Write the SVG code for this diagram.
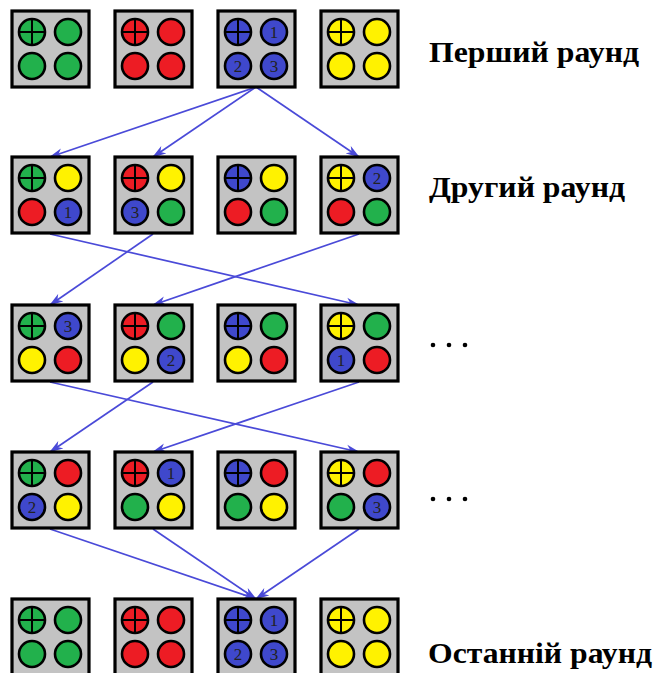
<svg xmlns="http://www.w3.org/2000/svg" xmlns:xlink="http://www.w3.org/1999/xlink" width="655" height="673" viewBox="0 0 655 673">
<style>
.box{fill:#c3c3c3;stroke:#000;stroke-width:3.2}
.c{stroke:#000;stroke-width:2.6}
.g{fill:#22b14c}.r{fill:#ed1c24}.b{fill:#3f48cc}.y{fill:#fff200}
.x{stroke:#000;stroke-width:2}
.n{font-family:"Liberation Serif",serif;font-size:17px;fill:#222;text-anchor:middle}
.lbl{font-family:"Liberation Serif",serif;font-weight:bold;font-size:29px;fill:#000}
.arr{stroke:#4a4ad8;stroke-width:1.7;fill:none;marker-end:url(#ah)}
</style>
<defs>
<marker id="ah" viewBox="0 0 14 10" refX="13" refY="5" markerWidth="14" markerHeight="10" markerUnits="userSpaceOnUse" orient="auto">
<path d="M0,0.5 L14,5 L0,9.5 L4,5 z" fill="#4a4ad8"/>
</marker>
<g id="cr"><line class="x" x1="-13" y1="0" x2="13" y2="0"/><line class="x" x1="0" y1="-13" x2="0" y2="13"/></g>
</defs>
<rect width="655" height="673" fill="#fff"/>

<g id="connectors">
<line class="arr" x1="256" y1="87" x2="50" y2="157"/>
<line class="arr" x1="256" y1="87" x2="153" y2="157"/>
<line class="arr" x1="256" y1="87" x2="359" y2="157"/>
<line class="arr" x1="50" y1="234" x2="359" y2="305"/>
<line class="arr" x1="153" y1="234" x2="50" y2="305"/>
<line class="arr" x1="359" y1="234" x2="153" y2="305"/>
<line class="arr" x1="50" y1="382" x2="359" y2="452"/>
<line class="arr" x1="153" y1="382" x2="50" y2="452"/>
<line class="arr" x1="359" y1="382" x2="153" y2="452"/>
<line class="arr" x1="50" y1="529" x2="256" y2="599"/>
<line class="arr" x1="153" y1="529" x2="256" y2="599"/>
<line class="arr" x1="359" y1="529" x2="256" y2="599"/>
</g>

<!-- Row 1 -->
<g id="r1b1" transform="translate(12,11)"><rect class="box" width="77" height="76"/>
<circle class="c g" cx="20" cy="21" r="13"/><use href="#cr" x="20" y="21"/><circle class="c g" cx="56" cy="21" r="13"/>
<circle class="c g" cx="20" cy="55" r="13"/><circle class="c g" cx="56" cy="55" r="13"/></g>
<g id="r1b2" transform="translate(115,11)"><rect class="box" width="77" height="76"/>
<circle class="c r" cx="20" cy="21" r="13"/><use href="#cr" x="20" y="21"/><circle class="c r" cx="56" cy="21" r="13"/>
<circle class="c r" cx="20" cy="55" r="13"/><circle class="c r" cx="56" cy="55" r="13"/></g>
<g id="r1b3" transform="translate(218,11)"><rect class="box" width="77" height="76"/>
<circle class="c b" cx="20" cy="21" r="13"/><use href="#cr" x="20" y="21"/><circle class="c b" cx="56" cy="21" r="13"/><text class="n" x="56" y="27">1</text>
<circle class="c b" cx="20" cy="55" r="13"/><text class="n" x="20" y="61">2</text><circle class="c b" cx="56" cy="55" r="13"/><text class="n" x="56" y="61">3</text></g>
<g id="r1b4" transform="translate(321,11)"><rect class="box" width="77" height="76"/>
<circle class="c y" cx="20" cy="21" r="13"/><use href="#cr" x="20" y="21"/><circle class="c y" cx="56" cy="21" r="13"/>
<circle class="c y" cx="20" cy="55" r="13"/><circle class="c y" cx="56" cy="55" r="13"/></g>
<text id="lbl1" class="lbl" x="429" y="62" textLength="210" lengthAdjust="spacingAndGlyphs">Перший раунд</text>

<!-- Row 2 -->
<g id="r2b1" transform="translate(12,157)"><rect class="box" width="77" height="76"/>
<circle class="c g" cx="20" cy="21" r="13"/><use href="#cr" x="20" y="21"/><circle class="c y" cx="56" cy="21" r="13"/>
<circle class="c r" cx="20" cy="55" r="13"/><circle class="c b" cx="56" cy="55" r="13"/><text class="n" x="56" y="61">1</text></g>
<g id="r2b2" transform="translate(115,157)"><rect class="box" width="77" height="76"/>
<circle class="c r" cx="20" cy="21" r="13"/><use href="#cr" x="20" y="21"/><circle class="c y" cx="56" cy="21" r="13"/>
<circle class="c b" cx="20" cy="55" r="13"/><text class="n" x="20" y="61">3</text><circle class="c g" cx="56" cy="55" r="13"/></g>
<g id="r2b3" transform="translate(218,157)"><rect class="box" width="77" height="76"/>
<circle class="c b" cx="20" cy="21" r="13"/><use href="#cr" x="20" y="21"/><circle class="c y" cx="56" cy="21" r="13"/>
<circle class="c r" cx="20" cy="55" r="13"/><circle class="c g" cx="56" cy="55" r="13"/></g>
<g id="r2b4" transform="translate(321,157)"><rect class="box" width="77" height="76"/>
<circle class="c y" cx="20" cy="21" r="13"/><use href="#cr" x="20" y="21"/><circle class="c b" cx="56" cy="21" r="13"/><text class="n" x="56" y="27">2</text>
<circle class="c r" cx="20" cy="55" r="13"/><circle class="c g" cx="56" cy="55" r="13"/></g>
<text id="lbl2" class="lbl" x="429" y="197" textLength="196" lengthAdjust="spacingAndGlyphs">Другий раунд</text>

<!-- Row 3 -->
<g id="r3b1" transform="translate(12,305)"><rect class="box" width="77" height="76"/>
<circle class="c g" cx="20" cy="21" r="13"/><use href="#cr" x="20" y="21"/><circle class="c b" cx="56" cy="21" r="13"/><text class="n" x="56" y="27">3</text>
<circle class="c y" cx="20" cy="55" r="13"/><circle class="c r" cx="56" cy="55" r="13"/></g>
<g id="r3b2" transform="translate(115,305)"><rect class="box" width="77" height="76"/>
<circle class="c r" cx="20" cy="21" r="13"/><use href="#cr" x="20" y="21"/><circle class="c g" cx="56" cy="21" r="13"/>
<circle class="c y" cx="20" cy="55" r="13"/><circle class="c b" cx="56" cy="55" r="13"/><text class="n" x="56" y="61">2</text></g>
<g id="r3b3" transform="translate(218,305)"><rect class="box" width="77" height="76"/>
<circle class="c b" cx="20" cy="21" r="13"/><use href="#cr" x="20" y="21"/><circle class="c g" cx="56" cy="21" r="13"/>
<circle class="c y" cx="20" cy="55" r="13"/><circle class="c r" cx="56" cy="55" r="13"/></g>
<g id="r3b4" transform="translate(321,305)"><rect class="box" width="77" height="76"/>
<circle class="c y" cx="20" cy="21" r="13"/><use href="#cr" x="20" y="21"/><circle class="c g" cx="56" cy="21" r="13"/>
<circle class="c b" cx="20" cy="55" r="13"/><text class="n" x="20" y="61">1</text><circle class="c r" cx="56" cy="55" r="13"/></g>
<g id="dots3"><circle cx="433" cy="345" r="2.3"/><circle cx="449" cy="345" r="2.3"/><circle cx="465" cy="345" r="2.3"/></g>

<!-- Row 4 -->
<g id="r4b1" transform="translate(12,452)"><rect class="box" width="77" height="76"/>
<circle class="c g" cx="20" cy="21" r="13"/><use href="#cr" x="20" y="21"/><circle class="c r" cx="56" cy="21" r="13"/>
<circle class="c b" cx="20" cy="55" r="13"/><text class="n" x="20" y="61">2</text><circle class="c y" cx="56" cy="55" r="13"/></g>
<g id="r4b2" transform="translate(115,452)"><rect class="box" width="77" height="76"/>
<circle class="c r" cx="20" cy="21" r="13"/><use href="#cr" x="20" y="21"/><circle class="c b" cx="56" cy="21" r="13"/><text class="n" x="56" y="27">1</text>
<circle class="c g" cx="20" cy="55" r="13"/><circle class="c y" cx="56" cy="55" r="13"/></g>
<g id="r4b3" transform="translate(218,452)"><rect class="box" width="77" height="76"/>
<circle class="c b" cx="20" cy="21" r="13"/><use href="#cr" x="20" y="21"/><circle class="c r" cx="56" cy="21" r="13"/>
<circle class="c g" cx="20" cy="55" r="13"/><circle class="c y" cx="56" cy="55" r="13"/></g>
<g id="r4b4" transform="translate(321,452)"><rect class="box" width="77" height="76"/>
<circle class="c y" cx="20" cy="21" r="13"/><use href="#cr" x="20" y="21"/><circle class="c r" cx="56" cy="21" r="13"/>
<circle class="c g" cx="20" cy="55" r="13"/><circle class="c b" cx="56" cy="55" r="13"/><text class="n" x="56" y="61">3</text></g>
<g id="dots4"><circle cx="433" cy="499" r="2.3"/><circle cx="449" cy="499" r="2.3"/><circle cx="465" cy="499" r="2.3"/></g>

<!-- Row 5 -->
<g id="r5b1" transform="translate(12,599)"><rect class="box" width="77" height="76"/>
<circle class="c g" cx="20" cy="21" r="13"/><use href="#cr" x="20" y="21"/><circle class="c g" cx="56" cy="21" r="13"/>
<circle class="c g" cx="20" cy="55" r="13"/><circle class="c g" cx="56" cy="55" r="13"/></g>
<g id="r5b2" transform="translate(115,599)"><rect class="box" width="77" height="76"/>
<circle class="c r" cx="20" cy="21" r="13"/><use href="#cr" x="20" y="21"/><circle class="c r" cx="56" cy="21" r="13"/>
<circle class="c r" cx="20" cy="55" r="13"/><circle class="c r" cx="56" cy="55" r="13"/></g>
<g id="r5b3" transform="translate(218,599)"><rect class="box" width="77" height="76"/>
<circle class="c b" cx="20" cy="21" r="13"/><use href="#cr" x="20" y="21"/><circle class="c b" cx="56" cy="21" r="13"/><text class="n" x="56" y="27">1</text>
<circle class="c b" cx="20" cy="55" r="13"/><text class="n" x="20" y="61">2</text><circle class="c b" cx="56" cy="55" r="13"/><text class="n" x="56" y="61">3</text></g>
<g id="r5b4" transform="translate(321,599)"><rect class="box" width="77" height="76"/>
<circle class="c y" cx="20" cy="21" r="13"/><use href="#cr" x="20" y="21"/><circle class="c y" cx="56" cy="21" r="13"/>
<circle class="c y" cx="20" cy="55" r="13"/><circle class="c y" cx="56" cy="55" r="13"/></g>
<text id="lbl5" class="lbl" x="428" y="663" textLength="224" lengthAdjust="spacingAndGlyphs">Останній раунд</text>
</svg>
